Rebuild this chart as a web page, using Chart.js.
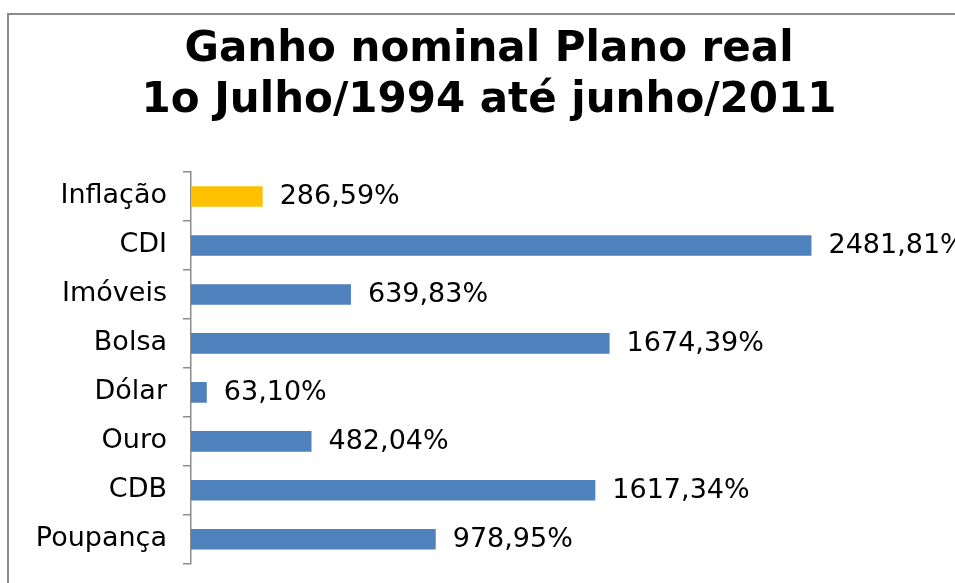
<!DOCTYPE html>
<html>
<head>
<meta charset="utf-8">
<script src="https://cdn.jsdelivr.net/npm/chart.js@4"></script>
<style>
  html, body { margin: 0; padding: 0; background: #fff; overflow: hidden; }
  #wrap { position: absolute; left: 0; top: 0; width: 978px; height: 596px; }
  #frame { position: absolute; left: 7px; top: 13px; width: 1000px; height: 600px;
           border: 2px solid #8a8a8a; box-sizing: border-box; }
</style>
</head>
<body>
<div id="frame"></div>
<div id="wrap"><canvas id="grafico" width="978" height="596"></canvas></div>
<script>
const categorias = ["Inflação", "CDI", "Imóveis", "Bolsa", "Dólar", "Ouro", "CDB", "Poupança"];
const ganhos = [286.59, 2481.81, 639.83, 1674.39, 63.10, 482.04, 1617.34, 978.95];
const cores = ["#FFC000", "#4F81BD", "#4F81BD", "#4F81BD", "#4F81BD", "#4F81BD", "#4F81BD", "#4F81BD"];
const titulo = ["Ganho nominal Plano real", "1o Julho/1994 até junho/2011"];

const fmt = (v) => v.toFixed(2).replace(".", ",") + "%";

// rotulos de valor ao lado das barras
const rotulos = {
  id: "rotulos",
  afterDatasetsDraw(chart) {
    const ctx = chart.ctx;
    const meta = chart.getDatasetMeta(0);
    ctx.save();
    ctx.font = "27px 'DejaVu Sans'";
    ctx.fillStyle = "#000";
    ctx.textBaseline = "middle";
    ctx.textAlign = "left";
    meta.data.forEach((bar, i) => {
      ctx.fillText(fmt(ganhos[i]), bar.x + 17, bar.y + 1);
    });
    ctx.restore();
  }
};

new Chart(document.getElementById("grafico"), {
  type: "bar",
  data: {
    labels: categorias,
    datasets: [
      {
        data: ganhos,
        backgroundColor: cores,
        borderWidth: 0,
        barPercentage: 0.42,
        categoryPercentage: 1,
      },
    ],
  },
  options: {
    indexAxis: "y",
    responsive: false,
    animation: false,
    layout: { padding: { top: 0, right: 37, bottom: 8, left: 37 } },
    plugins: {
      legend: { display: false },
      tooltip: { enabled: false },
      title: {
        display: true,
        text: titulo,
        color: "#000",
        font: { family: "'DejaVu Sans'", size: 42, weight: "bold", lineHeight: 1.214 },
        padding: { top: 25, bottom: 45 },
      },
    },
    scales: {
      x: {
        display: false,
        min: 0,
        max: 3000,
      },
      y: {
        afterFit(scale) { scale.width = 154; },
        border: { display: true, color: "#8c8c8c", width: 1.5 },
        grid: {
          offset: true,
          drawOnChartArea: false,
          drawTicks: true,
          tickLength: 8,
          color: "#8c8c8c",
          lineWidth: 1.5,
        },
        ticks: {
          color: "#000",
          padding: 16,
          font: { family: "'DejaVu Sans'", size: 27 },
        },
      },
    },
  },
  plugins: [rotulos],
});
</script>
</body>
</html>
